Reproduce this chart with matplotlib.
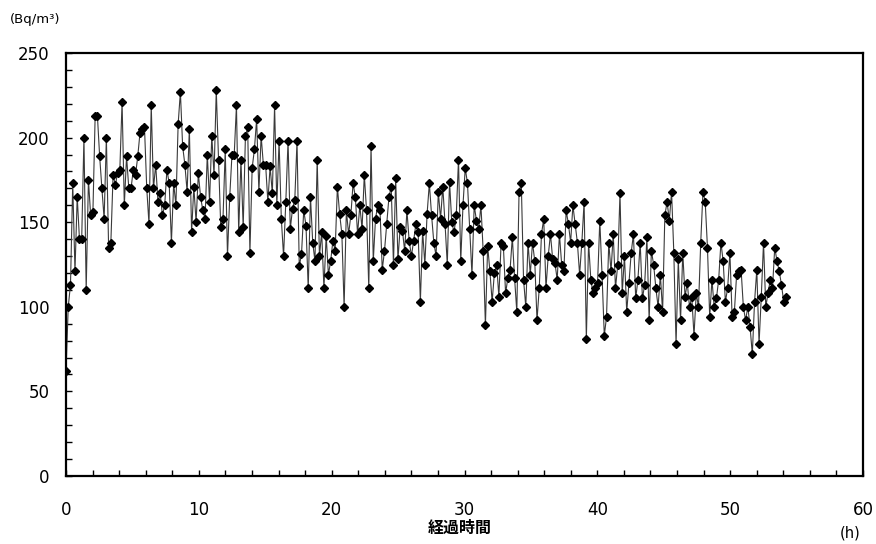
import numpy as np
import matplotlib
matplotlib.use('Agg')
import matplotlib.pyplot as plt
from matplotlib.ticker import MultipleLocator

plt.rcParams['font.family'] = ['DejaVu Sans', 'Noto Sans CJK JP']

# radon concentration (Bq/m3), roughly every 10 minutes
conc_0_9h = [62, 100, 113, 173, 121, 165, 140, 140, 200, 110,
             175, 154, 156, 213, 213, 189, 170, 152, 200, 135,
             138, 178, 172, 179, 181, 221, 160, 189, 170, 170,
             181, 178, 189, 203, 205, 206, 170, 149, 219, 170,
             184, 162, 167, 154, 160, 181, 173, 138, 173, 160,
             208]
conc_9_18h = [227, 195, 184, 168, 205, 144, 171, 150, 179, 165,
              157, 152, 190, 162, 201, 178, 228, 187, 147, 152,
              193, 130, 165, 190, 190, 219, 144, 187, 147, 201,
              206, 132, 182, 193, 211, 168, 201, 184, 184, 162,
              183, 167, 219, 160, 198, 152, 130, 162, 198, 146,
              158, 163, 198, 124]
conc_18_27h = [131, 157, 148, 111, 165, 138, 127, 187, 130, 144,
               111, 142, 119, 127, 139, 133, 171, 155, 143, 100,
               157, 143, 154, 173, 165, 143, 160, 146, 178, 157,
               111, 195, 127, 152, 160, 157, 122, 133, 149, 165,
               171, 125, 176, 128, 147, 145, 133, 157, 139, 130,
               139, 149]
conc_27_36h = [144, 103, 145, 125, 155, 173, 154, 138, 130, 168,
               152, 171, 149, 125, 174, 150, 144, 154, 187, 127,
               160, 182, 173, 146, 119, 160, 151, 146, 160, 133,
               89, 136, 121, 103, 120, 125, 106, 138, 136, 108,
               117, 122, 141, 117, 97, 168, 173, 116, 100, 138,
               119, 138, 127, 92, 111, 143, 152]
conc_36_45h = [111, 130, 143, 128, 126, 116, 143, 125, 121, 157,
               149, 138, 160, 149, 138, 119, 138, 162, 81, 138,
               116, 108, 111, 114, 151, 119, 83, 94, 138, 121,
               143, 111, 125, 167, 108, 130, 97, 114, 132, 143,
               105, 116, 138, 105, 113, 141, 92, 133, 125, 111,
               100, 119, 97, 154]
conc_45_54h = [162, 151, 168, 132, 78, 128, 92, 132, 106, 114,
               100, 106, 83, 108, 100, 138, 168, 162, 135, 94,
               116, 100, 105, 116, 138, 127, 103, 111, 132, 94,
               97, 119, 121, 122, 100, 92, 100, 88, 72, 103,
               122, 78, 106, 138, 100, 108, 116, 111, 135, 127,
               121, 113, 103, 106]

last_hour = 54.2
x_ticks = [0, 10, 20, 30, 40, 50, 60]
y_ticks = [0, 50, 100, 150, 200, 250]

conc = np.array(conc_0_9h + conc_9_18h + conc_18_27h
                + conc_27_36h + conc_36_45h + conc_45_54h)
hours = np.linspace(0, last_hour, len(conc))

fig = plt.figure(figsize=(8.76, 5.44), dpi=100)
ax = fig.add_axes([66 / 876, 1 - 476 / 544, 797 / 876, 423 / 544])

ax.plot(hours, conc, color='#3a3a3a', lw=0.8, zorder=2)
ax.plot(hours, conc, ls='none', marker='D', ms=4.2,
        mfc='black', mec='black', zorder=3)

ax.set_xlim(0, 60)
ax.set_ylim(0, 250)
ax.set_xticks(x_ticks)
ax.set_yticks(y_ticks)
ax.xaxis.set_minor_locator(MultipleLocator(2))
ax.yaxis.set_minor_locator(MultipleLocator(10))
ax.tick_params(which='both', direction='in', length=4, width=1, labelsize=12)
ax.tick_params(axis='x', pad=18)
ax.tick_params(axis='y', pad=12)

for sp in ax.spines.values():
    sp.set_linewidth(1.6)
    sp.set_color('black')

fig.text(10 / 876, 1 - 20 / 544, '(Bq/m³)', fontsize=9.5, va='center', ha='left')
fig.text(460 / 876, 1 - 528 / 544, '経過時間', fontsize=11.5, fontweight='bold',
         family=['Noto Sans CJK JP', 'DejaVu Sans'], va='center', ha='center')
fig.text(850 / 876, 1 - 533 / 544, '(h)', fontsize=10.5, va='center', ha='center')

fig.savefig('out.png', dpi=100)
